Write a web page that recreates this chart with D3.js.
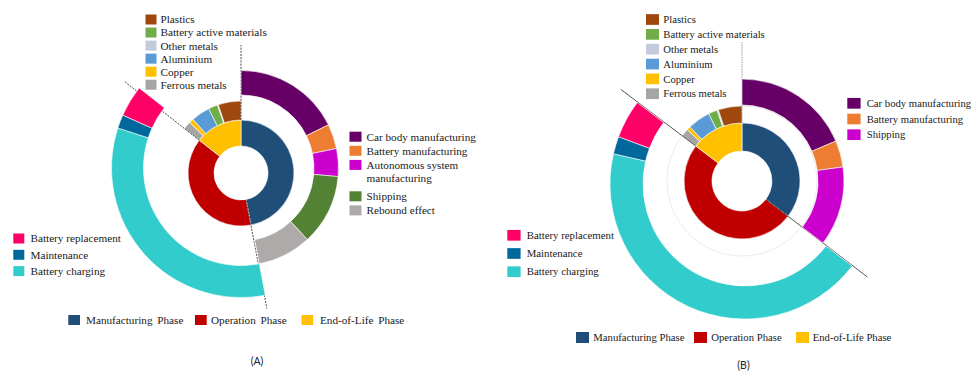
<!DOCTYPE html>
<html>
<head>
<meta charset="utf-8">
<script src="https://cdn.jsdelivr.net/npm/d3@7"></script>
<style>
  body { margin: 0; background: #fff; }
  svg { display: block; }
</style>
</head>
<body>
<svg id="chart" width="971" height="371"></svg>
<script>
// ---- Data: shares of life-cycle impact, in percent of the total ----
const phaseNames = ["Manufacturing Phase", "Operation Phase", "End-of-Life Phase"];
const phaseA = [47.0, 38.6, 14.4];
const phaseB = [35.4, 49.9, 14.7];

const manufNamesA = ["Car body manufacturing", "Battery manufacturing",
  "Autonomous system manufacturing", "Shipping", "Rebound effect"];
const manufA = [17.7, 4.1, 4.6, 11.7, 8.9];
const manufNamesB = ["Car body manufacturing", "Battery manufacturing", "Shipping"];
const manufB = [18.6, 4.2, 12.6];

const operationNames = ["Battery charging", "Maintenance", "Battery replacement"];
const operationA = [33.0, 1.7, 3.9];
const operationB = [43.2, 2.1, 4.6];

const materialNames = ["Ferrous metals", "Copper", "Aluminium",
  "Battery active materials", "Other metals", "Plastics"];
const materialA = [1.8, 1.0, 4.2, 2.1, 0.2, 5.1];
const materialB = [1.7, 0.8, 4.9, 1.9, 0.3, 5.1];

// Legend orders
const materialLegend = ["Plastics", "Battery active materials", "Other metals",
  "Aluminium", "Copper", "Ferrous metals"];
const operationLegend = ["Battery replacement", "Maintenance", "Battery charging"];

// ---- Colours ----
const phaseColors = ["#1F4E79", "#C00000", "#FFC000"];
const manufColorsA = ["#660066", "#ED7D31", "#CC00CC", "#548235", "#AEAAAA"];
const manufColorsB = ["#660066", "#ED7D31", "#CC00CC"];
const operationColors = ["#33CCCC", "#00689B", "#FF0066"];
const materialColors = ["#A5A5A5", "#FFC000", "#5B9BD5", "#70AD47", "#C3CBDD", "#9E480E"];

const FONT = "'Liberation Serif', 'Times New Roman', serif";
const TEXT = "#1a1a1a";

const svg = d3.select("#chart");
const angle = d3.scaleLinear().domain([0, 100]).range([0, 2 * Math.PI]);

// One ring of arcs spread over the angular span [a0, a1]
function ring(g, names, values, colors, a0, a1, r0, r1) {
  const color = d3.scaleOrdinal().domain(names).range(colors);
  const pie = d3.pie().sort(null).value(d => d.v).startAngle(a0).endAngle(a1);
  const arc = d3.arc().innerRadius(r0).outerRadius(r1);
  g.append("g").selectAll("path")
    .data(pie(values.map((v, i) => ({ v, name: names[i] }))))
    .join("path")
    .attr("d", arc)
    .attr("fill", d => color(d.data.name))
    .attr("stroke", "#fff")
    .attr("stroke-width", 0.6);
}

// Radial separator line along a phase boundary
function separator(g, a, r0, r1, style) {
  g.append("line")
    .attr("x1", r0 * Math.sin(a)).attr("y1", -r0 * Math.cos(a))
    .attr("x2", r1 * Math.sin(a)).attr("y2", -r1 * Math.cos(a))
    .attr("stroke", style.color)
    .attr("stroke-width", style.width)
    .attr("stroke-dasharray", style.dash || null);
}

// Vertical legend; wrapped labels take extra lines
function legendColumn(names, colors, order, o) {
  const color = d3.scaleOrdinal().domain(names).range(colors);
  const g = svg.append("g");
  let y = o.y;
  order.forEach(name => {
    g.append("rect")
      .attr("x", o.x).attr("y", y - o.sh / 2)
      .attr("width", o.sw).attr("height", o.sh)
      .attr("fill", color(name));
    const lines = (o.wrap && o.wrap[name]) || [name];
    const t = g.append("text")
      .attr("font-family", FONT).attr("font-size", o.fs).attr("fill", TEXT);
    lines.forEach((ln, i) => {
      t.append("tspan").attr("x", o.tx).attr("y", y + i * o.lh).attr("dy", "0.35em").text(ln);
    });
    y += o.dy + (lines.length - 1) * (o.extra || 0);
  });
}

// Horizontal phase legend
function legendRow(o) {
  const g = svg.append("g");
  phaseNames.forEach((name, i) => {
    g.append("rect")
      .attr("x", o.xs[i]).attr("y", o.y - o.sh / 2)
      .attr("width", o.sw).attr("height", o.sh)
      .attr("fill", phaseColors[i]);
    g.append("text")
      .attr("x", o.tx[i]).attr("y", o.y).attr("dy", "0.35em")
      .attr("font-family", FONT).attr("font-size", o.fs).attr("fill", TEXT)
      .attr("word-spacing", o.ws || 0)
      .text(name);
  });
}

function drawChart(cfg) {
  const bounds = d3.cumsum([0, ...cfg.phase]).map(angle);
  const core = svg.append("g").attr("transform", `translate(${cfg.cx},${cfg.cy})`);
  const outer = svg.append("g").attr("transform", `translate(${cfg.ox},${cfg.oy})`);

  if (cfg.guide) {
    core.append("circle").attr("r", cfg.rMat[1])
      .attr("fill", "none").attr("stroke", "#ececec").attr("stroke-width", 1);
  }

  // inner donut: the three phases
  ring(core, phaseNames, cfg.phase, phaseColors, 0, 2 * Math.PI, cfg.rCore[0], cfg.rCore[1]);
  // end-of-life materials
  ring(core, materialNames, cfg.material, materialColors, bounds[2], bounds[3], cfg.rMat[0], cfg.rMat[1]);
  // manufacturing breakdown
  ring(outer, cfg.manufNames, cfg.manuf, cfg.manufColors, bounds[0], bounds[1], cfg.rMan[0], cfg.rMan[1]);
  // operation breakdown
  const opG = svg.append("g").attr("transform", `translate(${cfg.px},${cfg.py})`);
  ring(opG, operationNames, cfg.operation, operationColors, bounds[1], bounds[2], cfg.rOp[0], cfg.rOp[1]);

  cfg.lines.forEach((ln, i) => separator(core, bounds[i], ln[0], ln[1], ln[2]));
}

// ---- (A) ----
drawChart({
  phase: phaseA, manuf: manufA, manufNames: manufNamesA, manufColors: manufColorsA,
  operation: operationA, material: materialA,
  cx: 241, cy: 173, ox: 241, oy: 168, px: 241, py: 168,
  rCore: [27, 53], rMat: [53, 72], rMan: [73, 97.5], rOp: [97.5, 129.5],
  lines: [
    [53, 128, { color: "#333", width: 0.9, dash: "2,1.2" }],
    [28, 138, { color: "#333", width: 0.9, dash: "2,1.2" }],
    [53, 149, { color: "#333", width: 0.9, dash: "2,1.2" }]
  ]
});

// ---- (B) ----
drawChart({
  phase: phaseB, manuf: manufB, manufNames: manufNamesB, manufColors: manufColorsB,
  operation: operationB, material: materialB, guide: true,
  cx: 742, cy: 181, ox: 742, oy: 181, px: 745, py: 184,
  rCore: [30, 58], rMat: [58, 75], rMan: [76, 102], rOp: [102, 135],
  lines: [
    [58, 139, { color: "#666", width: 0.8, dash: "1.2,1.2" }],
    [31, 158, { color: "#444", width: 0.9 }],
    [58, 152, { color: "#444", width: 0.9 }]
  ]
});

// ---- Legends (A) ----
legendColumn(materialNames, materialColors, materialLegend,
  { x: 145.5, y: 19.5, dy: 13.05, sw: 11, sh: 10, tx: 160.5, fs: 11.2, lh: 13 });
legendColumn(manufNamesA, manufColorsA, manufNamesA,
  { x: 349.5, y: 136.7, dy: 14.1, sw: 12, sh: 10, tx: 366.5, fs: 11.2, lh: 13.6, extra: 17.3,
    wrap: { "Autonomous system manufacturing": ["Autonomous system", "manufacturing"] } });
legendColumn(operationNames, operationColors, operationLegend,
  { x: 13.3, y: 238.5, dy: 16.3, sw: 11, sh: 10, tx: 30.5, fs: 11.2, lh: 13 });
legendRow({ xs: [68.3, 195, 301.5], tx: [86, 211, 320], y: 320, sw: 11.7, sh: 10, fs: 11.2, ws: 2 });

// ---- Legends (B) ----
legendColumn(materialNames, materialColors, materialLegend,
  { x: 646, y: 19.5, dy: 14.85, sw: 13, sh: 10.7, tx: 663.3, fs: 10.7, lh: 13 });
legendColumn(manufNamesB, manufColorsB, manufNamesB,
  { x: 847.3, y: 103.3, dy: 15.7, sw: 13.3, sh: 10.7, tx: 866.7, fs: 10.7, lh: 13 });
legendColumn(operationNames, operationColors, operationLegend,
  { x: 507.3, y: 235.3, dy: 18.2, sw: 13.3, sh: 10.7, tx: 526.7, fs: 10.8, lh: 13 });
legendRow({ xs: [576, 694, 796], tx: [593.3, 711.3, 812.7], y: 337.5, sw: 13, sh: 11, fs: 10.7 });

// ---- Panel captions ----
[["(A)", 257, 361], ["(B)", 743.5, 365]].forEach(([t, x, y]) => {
  svg.append("text").attr("x", x).attr("y", y).attr("dy", "0.35em")
    .attr("text-anchor", "middle")
    .attr("font-family", "Lato, 'Open Sans', sans-serif").attr("font-size", 10.5)
    .attr("fill", "#222").text(t);
});
</script>
</body>
</html>
